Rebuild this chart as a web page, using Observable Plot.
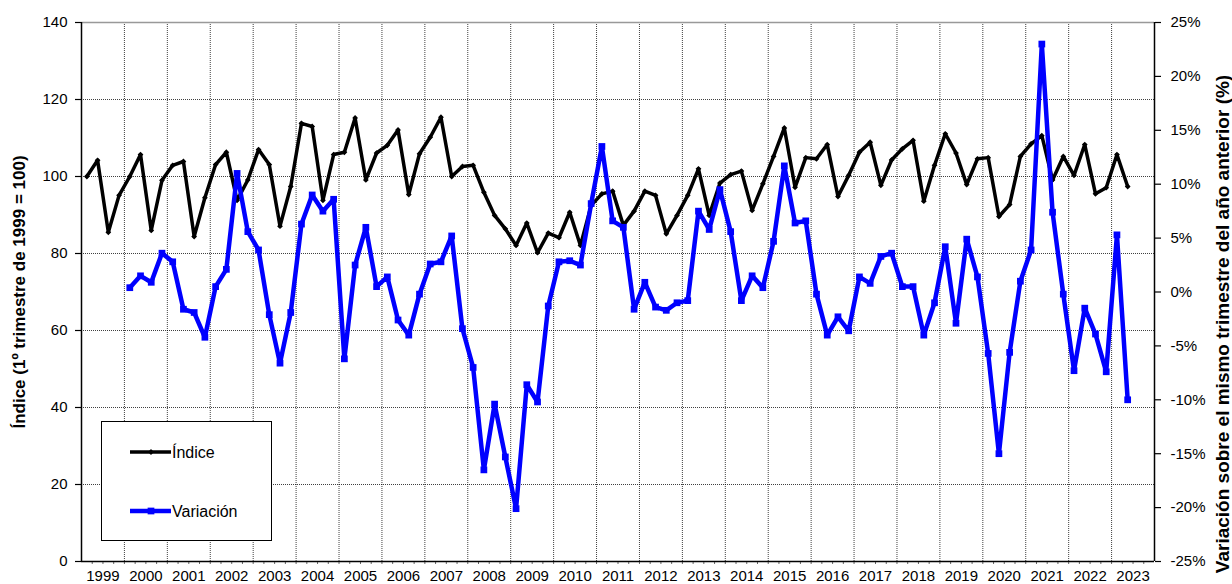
<!DOCTYPE html>
<html>
<head>
<meta charset="utf-8">
<script src="https://cdn.jsdelivr.net/npm/d3@7"></script>
<script src="https://cdn.jsdelivr.net/npm/@observablehq/plot@0.6"></script>
<style>
html, body { margin: 0; padding: 0; background: #fff; }
#wrap { position: relative; width: 1232px; height: 584px; overflow: hidden; font-family: "Liberation Sans", Arial, sans-serif; }
#legend { position: absolute; left: 101px; top: 421px; }
</style>
</head>
<body>
<div id="wrap"></div>
<script>
// ---- data ----
const years = ["1999","2000","2001","2002","2003","2004","2005","2006","2007","2008","2009","2010","2011","2012","2013","2014","2015","2016","2017","2018","2019","2020","2021","2022","2023"];

// Índice, quarterly from 1999 Q1 to 2023 Q2
const indice = [
  100.0, 104.2, 85.5, 95.1,
  100.0, 105.7, 86.0, 99.0,
  102.9, 103.9, 84.4, 94.5,
  103.1, 106.3, 93.8, 99.1,
  107.0, 103.1, 87.1, 97.4,
  113.8, 113.0, 93.8, 105.7,
  106.3, 115.2, 99.1, 106.1,
  108.1, 112.1, 95.3, 105.9,
  110.2, 115.4, 100.0, 102.6,
  102.9, 95.9, 89.9, 86.4,
  82.1, 87.9, 80.2, 85.3,
  84.1, 90.7, 82.1, 92.5,
  95.5, 96.2, 87.3, 91.0,
  96.2, 95.1, 85.1, 89.9,
  95.1, 102.0, 89.9, 98.3,
  100.5, 101.4, 91.2, 98.1,
  105.2, 112.6, 97.2, 104.9,
  104.6, 108.3, 94.8, 100.3,
  106.3, 108.9, 97.7, 104.3,
  107.2, 109.4, 93.6, 102.9,
  111.1, 106.1, 97.9, 104.6,
  104.9, 89.6, 92.7, 105.2,
  108.5, 110.6, 99.1, 105.2,
  100.3, 108.3, 95.5, 97.1,
  105.7, 97.4
];

// Variación (%), quarterly from 2000 Q1 to 2023 Q2
const variacionStart = 4; // first quarter index with a value (2000 Q1)
const variacion = [
  0.4, 1.5, 0.9, 3.6,
  2.8, -1.6, -1.9, -4.2,
  0.5, 2.1, 11.0, 5.6,
  3.9, -2.1, -6.6, -1.9,
  6.3, 9.0, 7.5, 8.6,
  -6.2, 2.5, 6.0, 0.5,
  1.4, -2.6, -4.0, -0.2,
  2.6, 2.8, 5.2, -3.4,
  -7.0, -16.5, -10.4, -15.3,
  -20.1, -8.6, -10.2, -1.3,
  2.8, 2.9, 2.5, 8.2,
  13.5, 6.6, 6.0, -1.6,
  0.9, -1.4, -1.7, -1.0,
  -0.8, 7.5, 5.8, 9.5,
  5.6, -0.8, 1.5, 0.4,
  4.7, 11.7, 6.4, 6.6,
  -0.2, -4.0, -2.3, -3.6,
  1.4, 0.8, 3.3, 3.6,
  0.5, 0.5, -4.0, -1.0,
  4.2, -2.9, 4.9, 1.4,
  -5.7, -15.0, -5.6, 1.0,
  3.9, 23.0, 7.4, -0.2,
  -7.3, -1.5, -3.9, -7.4,
  5.3, -10.0
];

const leftTicks = [0, 20, 40, 60, 80, 100, 120, 140];
const rightTicks = [-25, -20, -15, -10, -5, 0, 5, 10, 15, 20, 25];
const leftTitle = "Índice (1º trimestre de 1999 = 100)";
const rightTitle = "Variación sobre el mismo trimestre del año anterior (%)";
const seriesNames = ["Índice", "Variación"];

// ---- build ----
const nQuarters = years.length * 4;
const leftMax = 140, rightMin = -25, rightMax = 25;
const toLeft = v => (v - rightMin) * leftMax / (rightMax - rightMin);
const fromLeft = y => y * (rightMax - rightMin) / leftMax + rightMin;

const rowsI = indice.map((v, i) => ({q: i + 0.5, v}));
const rowsV = variacion.map((v, i) => ({q: i + variacionStart + 0.5, v}));

const yearBounds = d3.range(4, nQuarters, 4);
const yearCenters = d3.range(0, years.length).map(k => 4 * k + 2);

const chart = Plot.plot({
  width: 1232,
  height: 584,
  marginLeft: 81,
  marginRight: 78,
  marginTop: 22,
  marginBottom: 23,
  style: {fontFamily: "'Liberation Sans', Arial, sans-serif", fontSize: "15px", background: "#fff", color: "#000"},
  x: {domain: [0, nQuarters], axis: null},
  y: {domain: [0, leftMax], axis: null},
  marks: [
    Plot.gridX(yearBounds, {stroke: "#000", strokeOpacity: 0.75, strokeDasharray: "1,1"}),
    Plot.gridY(leftTicks.filter(d => d > 0 && d < leftMax), {stroke: "#000", strokeOpacity: 0.75, strokeDasharray: "1,1"}),
    Plot.ruleY([leftMax], {stroke: "#999", strokeWidth: 1.5}),
    Plot.axisY(leftTicks, {anchor: "left", tickSize: 6, tickPadding: 8, label: null, strokeWidth: 1.2}),
    Plot.axisY(rightTicks.map(toLeft), {anchor: "right", tickSize: 6, tickPadding: 10, label: null, strokeWidth: 1.2,
      tickFormat: d => Math.round(fromLeft(d)) + "%"}),
    Plot.axisX(yearCenters, {anchor: "bottom", tickSize: 0, tickPadding: 9, label: null,
      tickFormat: d => years[(d - 2) / 4]}),
    Plot.axisX(d3.range(1, nQuarters), {anchor: "bottom", tickSize: 3, tickFormat: () => "", label: null, strokeOpacity: 0.6}),
    Plot.ruleX([0, nQuarters], {stroke: "#000", strokeWidth: 1.5}),
    Plot.ruleY([0], {stroke: "#000", strokeWidth: 1.5}),
    Plot.line(rowsI, {x: "q", y: "v", stroke: "#000", strokeWidth: 3.5}),
    Plot.dot(rowsI, {x: "q", y: "v", symbol: "diamond2", r: 2.6, fill: "#000", stroke: "none"}),
    Plot.line(rowsV, {x: "q", y: d => toLeft(d.v), stroke: "#0000ff", strokeWidth: 4.5}),
    Plot.dot(rowsV, {x: "q", y: d => toLeft(d.v), symbol: "square", r: 3.8, fill: "#0000ff", stroke: "none"}),
    Plot.text([leftTitle], {frameAnchor: "left", textAnchor: "middle", lineAnchor: "middle", rotate: -90, dx: -62, fontWeight: "bold", fontSize: 17}),
    Plot.text([rightTitle], {frameAnchor: "right", textAnchor: "middle", lineAnchor: "middle", rotate: -90, dx: 68, dy: 32, fontWeight: "bold", fontSize: 19})
  ]
});
document.getElementById("wrap").appendChild(chart);

// ---- legend ----
const leg = d3.select("#wrap").append("svg").attr("id", "legend").attr("width", 172).attr("height", 121);
leg.append("rect").attr("x", 0.5).attr("y", 0.5).attr("width", 170).attr("height", 119)
  .attr("fill", "#fff").attr("stroke", "#000").attr("stroke-width", 1);
const items = [
  {name: seriesNames[0], color: "#000", w: 3.5, sym: d3.symbolDiamond2, s: 2.6, cy: 31},
  {name: seriesNames[1], color: "#0000ff", w: 4.5, sym: d3.symbolSquare, s: 3.8, cy: 90}
];
for (const it of items) {
  const g = leg.append("g");
  g.append("line").attr("x1", 29).attr("x2", 70).attr("y1", it.cy).attr("y2", it.cy)
    .attr("stroke", it.color).attr("stroke-width", it.w);
  g.append("path").attr("transform", `translate(50,${it.cy})`)
    .attr("d", d3.symbol(it.sym, Math.PI * it.s * it.s)()).attr("fill", it.color);
  g.append("text").attr("x", 71).attr("y", it.cy).attr("dy", "0.35em")
    .attr("font-size", 16).attr("font-family", "'Liberation Sans', Arial, sans-serif").text(it.name);
}
</script>
</body>
</html>
